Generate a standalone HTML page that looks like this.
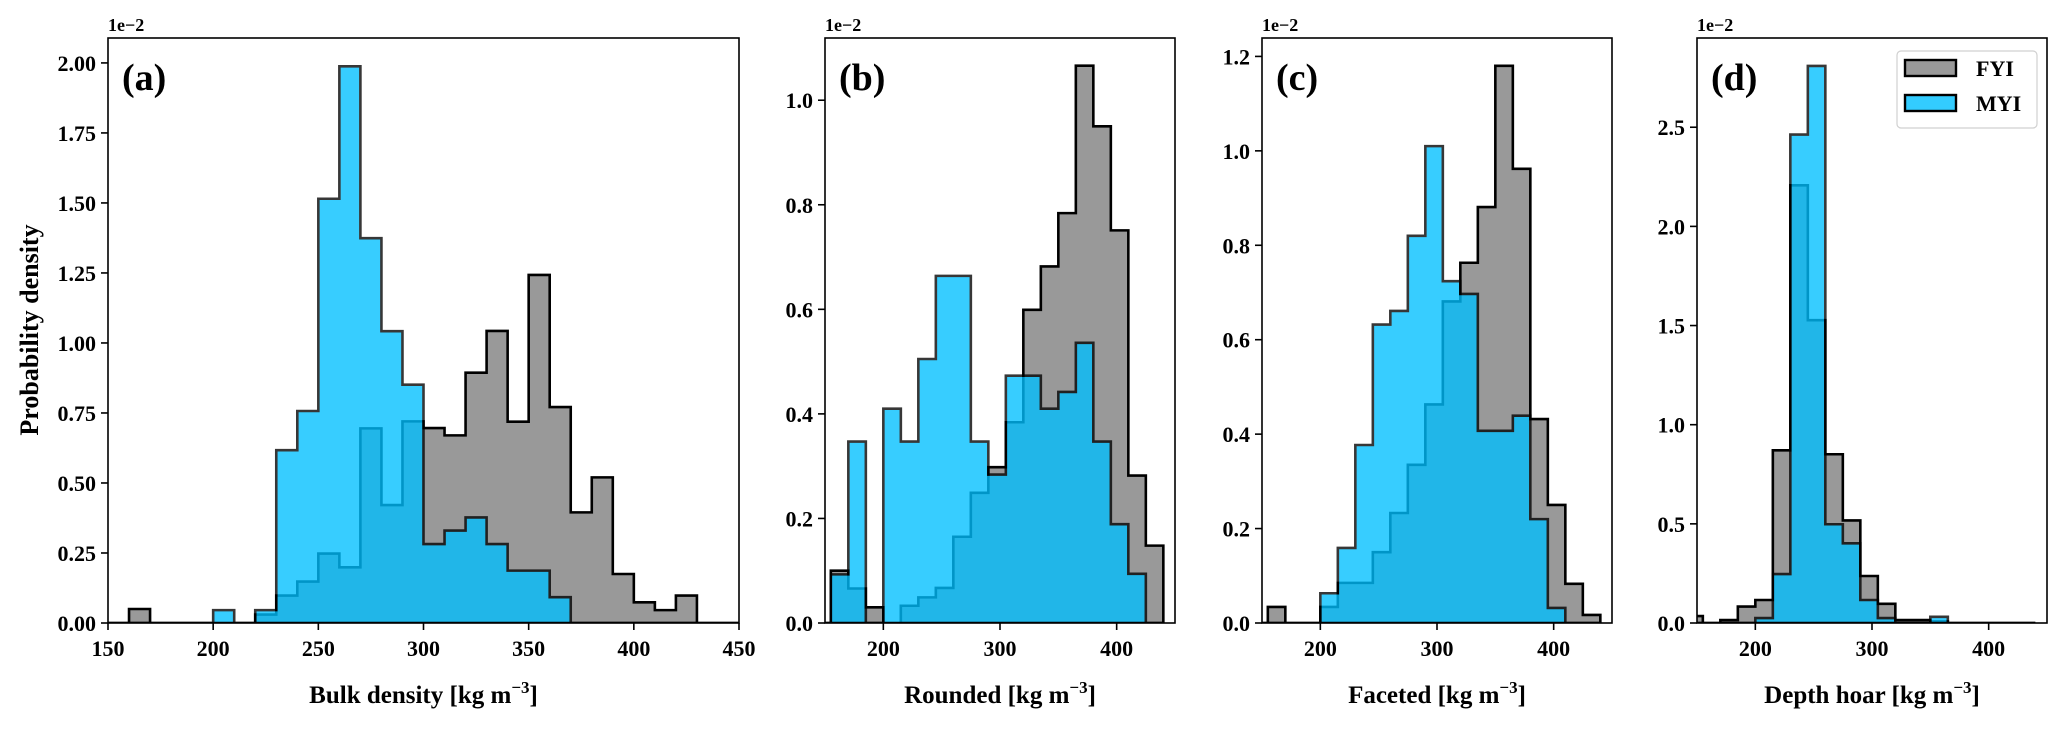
<!DOCTYPE html>
<html><head><meta charset="utf-8"><style>
html,body{margin:0;padding:0;background:#fff;}
svg text{font-family:"Liberation Serif",serif;font-weight:bold;fill:#000;}
</style></head><body>
<svg id="fig" width="2067" height="723" viewBox="0 0 2067 723" xmlns="http://www.w3.org/2000/svg"></svg>
<script>
// ---- data ----
const aBinStart = 150, aBinWidth = 10;
const aFYI = [0,0.05,0,0,0,0,0,0.03,0.098,0.148,0.248,0.199,0.695,0.421,0.72,0.696,0.67,0.894,1.043,0.719,1.243,0.771,0.395,0.52,0.175,0.074,0.046,0.098,0,0];
const aMYI = [0,0,0,0,0,0.046,0,0.046,0.617,0.757,1.515,1.988,1.374,1.042,0.851,0.282,0.33,0.377,0.282,0.187,0.187,0.092,0,0,0,0,0,0,0,0];
const bcdBinStart = 140, bcdBinWidth = 15;
const bFYI = [0,0.10,0.066,0.030,0,0.033,0.049,0.067,0.165,0.249,0.298,0.384,0.599,0.682,0.784,1.066,0.950,0.751,0.282,0.148];
const bMYI = [0,0.093,0.347,0,0.41,0.347,0.505,0.664,0.664,0.347,0.284,0.473,0.473,0.41,0.442,0.536,0.347,0.189,0.094,0];
const cFYI = [0,0.034,0,0,0.034,0.085,0.085,0.150,0.233,0.335,0.463,0.681,0.763,0.881,1.18,0.962,0.432,0.250,0.083,0.017];
const cMYI = [0,0,0,0,0.063,0.159,0.377,0.632,0.661,0.820,1.010,0.724,0.697,0.407,0.407,0.439,0.220,0.032,0,0];
const dFYI = [0.035,0,0.015,0.083,0.116,0.871,2.207,1.527,0.851,0.517,0.237,0.097,0.015,0.015,0.008,0,0,0,0,0];
const dMYI = [0,0,0,0,0.025,0.247,2.463,2.809,0.498,0.402,0.116,0.025,0,0,0.031,0,0,0,0,0];
const aYTicks = ["0.00","0.25","0.50","0.75","1.00","1.25","1.50","1.75","2.00"];
const bYTicks = ["0.0","0.2","0.4","0.6","0.8","1.0"];
const cYTicks = ["0.0","0.2","0.4","0.6","0.8","1.0","1.2"];
const dYTicks = ["0.0","0.5","1.0","1.5","2.0","2.5"];
const aXTicks = ["150","200","250","300","350","400","450"];
const bcdXTicks = ["200","300","400"];
const panelLetters = ["(a)","(b)","(c)","(d)"];
const xTitles = ["Bulk density","Rounded","Faceted","Depth hoar"];

const NS = "http://www.w3.org/2000/svg";
const svg = document.getElementById("fig");
function mk(tag, attrs, parent){
  const e = document.createElementNS(NS, tag);
  for (const k in attrs) e.setAttribute(k, attrs[k]);
  (parent||svg).appendChild(e);
  return e;
}
const TOP = 38, BOT = 623;
const panels = [
  {x0:108,x1:739,ymax:2.089,start:aBinStart,w:aBinWidth,fyi:aFYI,myi:aMYI,yt:aYTicks,xt:aXTicks},
  {x0:825,x1:1175,ymax:1.119,start:bcdBinStart,w:bcdBinWidth,fyi:bFYI,myi:bMYI,yt:bYTicks,xt:bcdXTicks},
  {x0:1262,x1:1612,ymax:1.239,start:bcdBinStart,w:bcdBinWidth,fyi:cFYI,myi:cMYI,yt:cYTicks,xt:bcdXTicks},
  {x0:1697,x1:2047,ymax:2.95,start:bcdBinStart,w:bcdBinWidth,fyi:dFYI,myi:dMYI,yt:dYTicks,xt:bcdXTicks}
];
const ids = ["a","b","c","d"];
panels.forEach((p, i) => {
  const xs = v => p.x0 + (v - 150) / 300 * (p.x1 - p.x0);
  const ys = v => BOT - v / p.ymax * (BOT - TOP);
  const g = mk("g", {});
  
  
  const clip = mk("clipPath", {id: "clip" + i}, g);
  mk("rect", {x: p.x0, y: TOP, width: p.x1 - p.x0, height: BOT - TOP}, clip);
  function stepPath(vals){
    let d = "M" + xs(p.start) + "," + ys(0);
    vals.forEach((v, k) => {
      const l = xs(p.start + k * p.w), r = xs(p.start + (k + 1) * p.w);
      d += " L" + l + "," + ys(v) + " L" + r + "," + ys(v);
    });
    d += " L" + xs(p.start + vals.length * p.w) + "," + ys(0) + " Z";
    return d;
  }
  const fy = mk("path", {d: stepPath(p.fyi), fill: "#999999", stroke: "#000", "stroke-width": 2.6, "stroke-linejoin": "miter", "clip-path": "url(#clip" + i + ")"}, g);
  
  
  const my = mk("path", {d: stepPath(p.myi), fill: "#00bfff", stroke: "#000", "stroke-width": 2.6, opacity: 0.78, "clip-path": "url(#clip" + i + ")"}, g);
  
  
  // frame
  const fr = mk("rect", {x: p.x0, y: TOP, width: p.x1 - p.x0, height: BOT - TOP, fill: "none", stroke: "#000", "stroke-width": 1.6}, g);
  
  
  // y ticks
  p.yt.forEach(t => {
    const y = ys(parseFloat(t));
    mk("line", {x1: p.x0 - 7, x2: p.x0, y1: y, y2: y, stroke: "#000", "stroke-width": 1.6}, g);
    const tx = mk("text", {x: p.x0 - 12, y: y + 8, "text-anchor": "end", "font-size": 22}, g);
    tx.textContent = t;
    
    
  });
  // x ticks
  p.xt.forEach(t => {
    const x = xs(parseFloat(t));
    mk("line", {x1: x, x2: x, y1: BOT, y2: BOT + 7, stroke: "#000", "stroke-width": 1.6}, g);
    const tx = mk("text", {x: x, y: BOT + 33, "text-anchor": "middle", "font-size": 22}, g);
    tx.textContent = t;
    
    
  });
  const off = mk("text", {x: p.x0, y: 31, "font-size": 18}, g);
  off.textContent = "1e\u22122";
  
  
  const pl = mk("text", {x: p.x0 + 14, y: 90, "font-size": 38}, g);
  pl.textContent = panelLetters[i];
  
  
  const xl = mk("text", {x: (p.x0 + p.x1) / 2, y: 703, "text-anchor": "middle", "font-size": 25}, g);
  
  
  xl.appendChild(document.createTextNode(xTitles[i] + " [kg m"));
  const sup = mk("tspan", {dy: -10, "font-size": 17}, xl);
  sup.textContent = "\u22123";
  const cl = mk("tspan", {dy: 10}, xl);
  cl.textContent = "]";
});
</script>
<text></text>
<svg width="0" height="0"></svg>
<script>
const s2 = document.getElementById("fig");
const N2 = "http://www.w3.org/2000/svg";
function t2(tag, attrs){ const e = document.createElementNS(N2, tag); for (const k in attrs) e.setAttribute(k, attrs[k]); s2.appendChild(e); return e; }
const yl = t2("text", {x: 0, y: 0, transform: "translate(38,330) rotate(-90)", "text-anchor": "middle", "font-size": 26});
yl.textContent = "Probability density";


const lg = t2("g", {});


const lb = document.createElementNS(N2, "rect");
[["x",1897],["y",51],["width",140],["height",77],["rx",4],["fill","#fff"],["stroke","#d0d0d0"],["stroke-width",1.2]].forEach(a=>lb.setAttribute(a[0],a[1]));
lg.appendChild(lb);
const items = [["FYI","#999999",60],["MYI","#33ccff",95]];
items.forEach(it => {
  const r = document.createElementNS(N2, "rect");
  [["x",1905],["y",it[2]],["width",51],["height",16],["fill",it[1]],["stroke","#000"],["stroke-width",2.4]].forEach(a=>r.setAttribute(a[0],a[1]));
  
  
  lg.appendChild(r);
  const tx = document.createElementNS(N2, "text");
  [["x",1976],["y",it[2]+16],["font-size",22]].forEach(a=>tx.setAttribute(a[0],a[1]));
  tx.textContent = it[0];
  
  
  lg.appendChild(tx);
});
</script>
</body></html>
